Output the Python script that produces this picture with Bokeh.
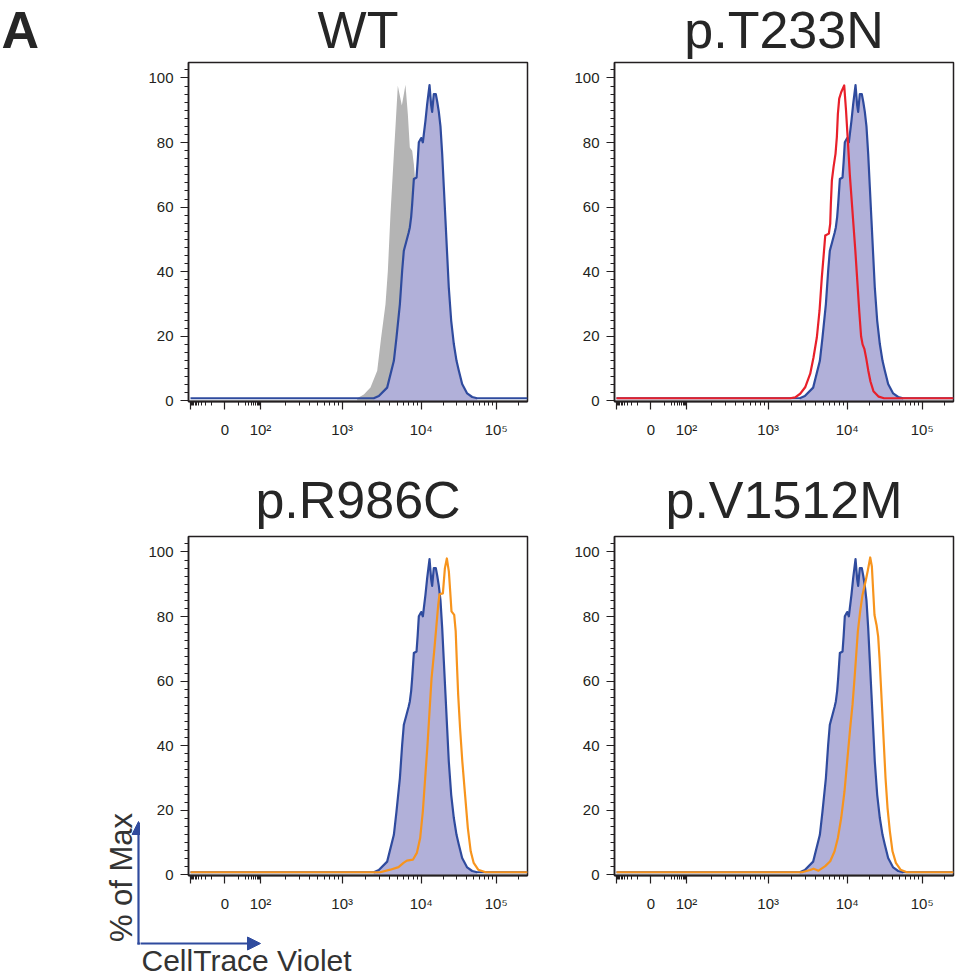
import numpy as np
from bokeh.plotting import figure
from bokeh.layouts import column, row
from bokeh.models import Range1d, FixedTicker, Label, Arrow, NormalHead
from bokeh.embed import file_html
from bokeh.resources import INLINE

# ---------------- data ----------------
TITLES = ["WT", "p.T233N", "p.R986C", "p.V1512M"]
PANEL_LETTER = "A"
Y_LABEL = "% of Max"
X_LABEL = "CellTrace Violet"

X_MAJOR = [-100, 0, 100, 1e3, 1e4, 1e5]
X_MAJOR_LABELS = ["", "0", "10\u00b2", "10\u00b3", "10\u2074", "10\u2075"]
X_MINOR = ([-k * 10 for k in range(1, 10)] + [k * 10 for k in range(1, 10)]
           + [k * 100 for k in range(2, 10)] + [k * 1000 for k in range(2, 10)]
           + [k * 10000 for k in range(2, 10)] + [2e5])
Y_MAJOR = [0, 20, 40, 60, 80, 100]
Y_MINOR = [k * 2.5 for k in range(0, 42) if k % 8 != 0]

BASELINE = 0.8          # % of max along the empty channels
X_MIN_VAL, X_MAX_VAL = -100, 262144

# biexponential display calibration: intensity -> display channel
SCALE_VALUES = [-100, 0, 100, 1e3, 1e4, 1e5, 262144]
SCALE_CHANNELS = [2.0, 36.3, 72.0, 153.7, 232.7, 307.7, 339.1]

# WT stimulated (blue, shown in every panel) : log10 intensity, % of max
BLUE_LOG = [3.400, 3.464, 3.569, 3.654, 3.687, 3.730, 3.759, 3.780, 3.814, 3.840,
            3.856, 3.873, 3.886, 3.907, 3.941, 3.955, 3.970, 4.000, 4.022, 4.057,
            4.080, 4.111, 4.133, 4.146, 4.168, 4.195, 4.215, 4.235, 4.257, 4.280,
            4.302, 4.324, 4.346, 4.368, 4.400, 4.435, 4.471, 4.502, 4.546, 4.613,
            4.680, 4.746]
BLUE_VAL = [0.8, 1.5, 4.1, 12.4, 19.6, 29.9, 40.3, 46.5, 49.6, 52.0,
            53.7, 57.0, 61.0, 68.7, 69.2, 74.0, 80.1, 81.4, 80.1, 86.8,
            92.0, 97.8, 91.5, 89.5, 95.0, 95.0, 92.5, 89.5, 85.0, 76.4,
            66.1, 55.8, 45.4, 35.1, 24.8, 17.6, 12.4, 9.3, 5.2, 2.3,
            1.2, 0.8]

# WT grey reference histogram
GRAY_LOG = [3.189, 3.274, 3.358, 3.443, 3.493, 3.548, 3.578, 3.611, 3.654, 3.679,
            3.704, 3.755, 3.801, 3.831, 3.856, 3.886, 3.907, 3.928, 3.970, 4.013,
            4.080, 4.146, 4.235, 4.346]
GRAY_VAL = [0.8, 2.0, 4.1, 9.3, 19.6, 29.9, 40.3, 57.8, 76.4, 86.8,
            97.6, 91.5, 97.9, 88.8, 78.5, 77.5, 73.3, 67.1, 55.8, 42.3,
            24.8, 11.4, 3.1, 0.8]

# p.T233N (red)
RED_LOG = [3.278, 3.342, 3.405, 3.468, 3.532, 3.574, 3.616, 3.650, 3.679, 3.700,
           3.722, 3.768, 3.785, 3.793, 3.806, 3.827, 3.852, 3.869, 3.882, 3.899,
           3.924, 3.962, 3.985, 4.010, 4.035, 4.060, 4.085, 4.110, 4.135, 4.160,
           4.185, 4.205, 4.230, 4.255, 4.280, 4.310, 4.350, 4.420, 4.490]
RED_VAL = [0.8, 1.1, 2.2, 4.2, 8.4, 13.5, 19.7, 28.0, 38.3, 44.5,
           51.2, 51.8, 54.9, 61.0, 68.3, 72.4, 76.5, 81.7, 88.9, 93.6,
           95.6, 97.7, 90.0, 80.0, 70.0, 62.0, 54.0, 46.0, 37.0, 28.0,
           20.0, 17.5, 16.0, 13.0, 9.5, 6.0, 3.0, 1.3, 0.8]

# p.R986C (orange)
R986C_LOG = [3.481, 3.608, 3.713, 3.776, 3.819, 3.895, 3.945, 3.987, 4.022, 4.053,
             4.084, 4.111, 4.138, 4.173, 4.200, 4.227, 4.244, 4.289, 4.316, 4.342,
             4.369, 4.387, 4.404, 4.440, 4.460, 4.475, 4.493, 4.518, 4.548, 4.585,
             4.622, 4.660, 4.700, 4.760, 4.860]
R986C_VAL = [0.8, 1.6, 2.4, 3.7, 4.4, 4.7, 6.8, 11.4, 19.7, 30.0,
             40.3, 50.6, 60.9, 69.2, 76.4, 83.6, 86.9, 87.2, 95.0, 98.0,
             93.9, 87.7, 81.6, 80.5, 75.4, 66.1, 55.8, 45.5, 35.2, 24.8,
             14.5, 7.3, 3.7, 1.6, 0.8]

# p.V1512M (orange)
V1512M_LOG = [3.426, 3.532, 3.574, 3.637, 3.722, 3.785, 3.840, 3.882, 3.924, 3.966,
              4.000, 4.040, 4.071, 4.098, 4.120, 4.142, 4.173, 4.204, 4.249, 4.276,
              4.307, 4.329, 4.347, 4.364, 4.391, 4.413, 4.431, 4.449, 4.467, 4.489,
              4.511, 4.538, 4.569, 4.604, 4.649, 4.711, 4.796]
V1512M_VAL = [0.8, 1.5, 1.9, 1.3, 2.7, 4.2, 7.3, 11.4, 17.6, 25.9,
              35.2, 45.5, 52.7, 60.9, 68.1, 75.4, 81.6, 86.7, 91.3, 94.4,
              98.3, 95.5, 87.7, 80.5, 77.4, 73.8, 67.1, 58.9, 50.6, 40.3,
              30.0, 20.7, 13.5, 7.3, 3.7, 1.6, 0.8]

# ---------------- styles ----------------
INK = "#231f20"
TITLE_INK = "#262626"
BLUE = "#2f4b9e"
LAVENDER = "#b1b0d9"
GRAY = "#b4b4b4"
RED = "#e8202a"
ORANGE = "#f7941d"
LEGEND_INK = "#333333"
TEXT_FONT = "Liberation Sans"

X_RANGE = (0, 339)
Y_RANGE = (-0.2, 104.8)
FRAME_W, FRAME_H = 339, 339


def biex(v):
    v = np.asarray(v, dtype=float)
    u = np.arcsinh(v / 5.0) / np.log(10)
    ua = np.arcsinh(np.asarray(SCALE_VALUES, dtype=float) / 5.0) / np.log(10)
    return np.interp(u, ua, SCALE_CHANNELS)


def hump(logs, vals):
    return biex(10 ** np.asarray(logs)), np.asarray(vals, dtype=float)


def full_line(logs, vals):
    x = np.concatenate([[X_MIN_VAL], 10 ** np.asarray(logs), [X_MAX_VAL]])
    y = np.concatenate([[BASELINE], np.asarray(vals, dtype=float), [BASELINE]])
    return biex(x), y


def blank(width, height, x0, x1, y_top, y_bottom):
    """Axis-less canvas whose data units equal page pixels (y downward)."""
    p = figure(width=width, height=height,
               x_range=Range1d(x0, x1), y_range=Range1d(y_bottom, y_top),
               x_axis_type=None, y_axis_type=None,
               output_backend="svg", toolbar_location=None, min_border=0)
    p.grid.visible = False
    p.outline_line_color = None
    p.background_fill_color = "white"
    p.border_fill_color = "white"
    return p


def make_panel(left, right, top, bottom, overlay=None, overlay_color=None,
               control=False):
    p = figure(width=left + FRAME_W + right, height=top + FRAME_H + bottom,
               x_range=Range1d(*X_RANGE), y_range=Range1d(*Y_RANGE),
               output_backend="svg", toolbar_location=None,
               min_border_left=left, min_border_right=right,
               min_border_top=top, min_border_bottom=bottom)
    p.background_fill_color = "white"
    p.border_fill_color = "white"
    p.outline_line_color = INK
    p.outline_line_width = 1.5
    p.outline_line_alpha = 1.0
    p.grid.visible = False

    ticks = [round(float(t), 4) for t in biex(X_MAJOR)]
    p.xaxis.ticker = FixedTicker(ticks=ticks,
                                 minor_ticks=[float(t) for t in biex(X_MINOR)])
    p.xaxis.major_label_overrides = {t: lab for t, lab in zip(ticks, X_MAJOR_LABELS)}
    p.yaxis.ticker = FixedTicker(ticks=Y_MAJOR, minor_ticks=Y_MINOR)

    for ax in (p.xaxis[0], p.yaxis[0]):
        ax.axis_line_color = INK
        ax.major_tick_line_color = INK
        ax.minor_tick_line_color = INK
        ax.major_tick_in = 0
        ax.minor_tick_in = 0
        ax.major_tick_out = 8
        ax.minor_tick_out = 4
        ax.major_tick_line_width = 1.2
        ax.minor_tick_line_width = 1
        ax.major_label_text_font = TEXT_FONT
        ax.major_label_text_font_size = "15px"
        ax.major_label_text_color = INK
    p.xaxis.axis_line_width = 2
    p.yaxis.axis_line_width = 1.5
    p.xaxis.major_label_standoff = 11
    p.yaxis.major_label_standoff = 7

    if control:
        gx, gy = hump(GRAY_LOG, GRAY_VAL)
        p.varea(x=gx, y1=0, y2=gy, fill_color=GRAY, fill_alpha=1.0)
    bx, by = hump(BLUE_LOG, BLUE_VAL)
    p.varea(x=bx, y1=0, y2=by, fill_color=LAVENDER, fill_alpha=1.0)
    lx, ly = full_line(BLUE_LOG, BLUE_VAL)
    p.line(x=lx, y=ly, line_color=BLUE, line_width=2.2, line_join="round")
    if overlay is not None:
        ox, oy = full_line(*overlay)
        p.line(x=ox, y=oy, line_color=overlay_color, line_width=2.2,
               line_join="round")
    return p


# Bokeh draws the label's font box centred on the anchor; the baseline sits
# about 0.3465 em (Liberation Sans) below it.
BASE_OFFSET_EM = 0.3465
TITLE_PX = 52


def title_label(x, baseline, text, bold=False, align="center"):
    return Label(x=x, y=baseline - BASE_OFFSET_EM * TITLE_PX, text=text,
                 text_align=align, text_baseline="alphabetic",
                 text_font=TEXT_FONT,
                 text_font_style="bold" if bold else "normal",
                 text_font_size=f"{TITLE_PX}px", text_color=TITLE_INK)


# ---- page geometry (pixels) ----
PAGE_W = 955
L_LEFT, L_RIGHT = 188, 24          # left column panels
R_LEFT, R_RIGHT = 63, 2            # right column panels
TOP_PAD = 2
TOP_BOTTOM, BOT_BOTTOM = 50, 45
HEAD1_H = 60
LEG_W = 140
STRIP_H = 57

col1_center = L_LEFT + FRAME_W / 2
col2_center = L_LEFT + FRAME_W + L_RIGHT + R_LEFT + FRAME_W / 2

# header row 1: panel letter and the two upper titles
h1 = blank(PAGE_W, HEAD1_H, 0, PAGE_W, 0, HEAD1_H)
h1.add_layout(title_label(1, 47.5, PANEL_LETTER, bold=True, align="left"))
h1.add_layout(title_label(col1_center, 47.5, TITLES[0]))
h1.add_layout(title_label(col2_center, 47.5, TITLES[1]))

p1 = make_panel(L_LEFT, L_RIGHT, TOP_PAD, TOP_BOTTOM, control=True)
p2 = make_panel(R_LEFT, R_RIGHT, TOP_PAD, TOP_BOTTOM,
                overlay=(RED_LOG, RED_VAL), overlay_color=RED)

# header row 2: lower titles
y0 = HEAD1_H + TOP_PAD + FRAME_H + TOP_BOTTOM        # 451
y1 = 534                                            # top of lower panels
h2 = blank(PAGE_W, y1 - y0, 0, PAGE_W, y0, y1)
h2.add_layout(title_label(col1_center, 518, TITLES[2]))
h2.add_layout(title_label(col2_center, 518, TITLES[3]))

p3 = make_panel(L_LEFT - LEG_W, L_RIGHT, TOP_PAD, BOT_BOTTOM,
                overlay=(R986C_LOG, R986C_VAL), overlay_color=ORANGE)
p4 = make_panel(R_LEFT, R_RIGHT, TOP_PAD, BOT_BOTTOM,
                overlay=(V1512M_LOG, V1512M_VAL), overlay_color=ORANGE)

# axis legend: vertical part (left strip) and horizontal part (under panel)
y_strip = y1 + TOP_PAD + FRAME_H + BOT_BOTTOM       # 920
y_end = y_strip + STRIP_H                           # 977
CORNER_X, CORNER_Y = 138, 943
V_TIP, H_TIP = 821, 260

leg = blank(LEG_W, y_end - y1, 0, LEG_W, y1, y_end)
leg.line(x=[CORNER_X - 1.1, LEG_W + 20], y=[CORNER_Y, CORNER_Y],
         line_color=BLUE, line_width=2.2)
leg.add_layout(Arrow(end=NormalHead(size=13, fill_color=BLUE, line_color=BLUE),
                     x_start=CORNER_X, y_start=CORNER_Y + 1.1,
                     x_end=CORNER_X, y_end=V_TIP,
                     line_color=BLUE, line_width=2.2))
leg.add_layout(Label(x=131.5 - BASE_OFFSET_EM * 31, y=877, text=Y_LABEL,
                     angle=np.pi / 2, angle_units="rad", text_align="center",
                     text_baseline="alphabetic", text_font=TEXT_FONT,
                     text_font_size="31px", text_color=LEGEND_INK))

strip_w = L_LEFT - LEG_W + FRAME_W + L_RIGHT
strip = blank(strip_w, STRIP_H, LEG_W, LEG_W + strip_w, y_strip, y_end)
strip.add_layout(Arrow(end=NormalHead(size=13, fill_color=BLUE, line_color=BLUE),
                       x_start=LEG_W - 30, y_start=CORNER_Y,
                       x_end=H_TIP, y_end=CORNER_Y,
                       line_color=BLUE, line_width=2.2))
strip.add_layout(Label(x=141, y=959.5, text=X_LABEL, text_align="left",
                       text_baseline="alphabetic", text_font=TEXT_FONT,
                       text_font_size="30px", text_color=LEGEND_INK))

# wrapping single plots in their own row/column keeps Bokeh from aligning
# their borders with neighbouring plots
layout = column(h1, row(p1, p2), h2,
                row(column(leg), column(p3, row(strip)), p4))
open("out.html", "w").write(file_html(layout, INLINE))
